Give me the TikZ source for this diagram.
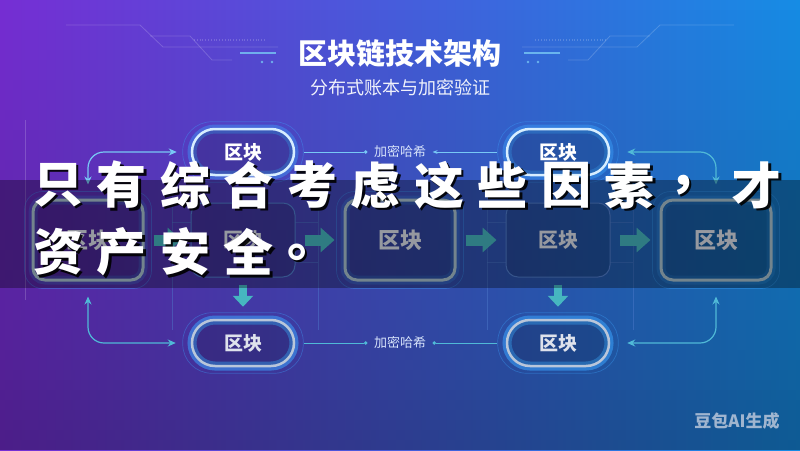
\documentclass[tikz,border=0pt]{standalone}
\usepackage{fontspec}
\setmainfont{Noto Sans CJK SC}
\usetikzlibrary{arrows.meta,calc}
\definecolor{bgleft}{RGB}{118,46,212}
\definecolor{bgmid}{RGB}{62,80,214}
\definecolor{bgright}{RGB}{22,140,228}
\definecolor{frameline}{RGB}{170,196,208}
\definecolor{thinline}{RGB}{80,125,205}
\definecolor{pilltopc}{RGB}{215,238,255}
\definecolor{pillbotc}{RGB}{185,198,218}
\definecolor{glowblue}{RGB}{60,165,255}
\definecolor{flowteal}{RGB}{70,182,192}
\definecolor{linkblue}{RGB}{120,200,245}
\definecolor{linkteal}{RGB}{80,185,215}
\definecolor{labeltext}{RGB}{214,226,250}
\definecolor{blocktext}{RGB}{222,226,236}
\tikzset{
 thickbox/.style={rectangle,rounded corners=12pt,minimum width=110pt,minimum height=80pt,
  line width=3pt,draw=frameline,fill=black,fill opacity=.12,text opacity=1,text=blocktext,
  font=\bfseries\fontsize{22}{24}\selectfont,
  preaction={draw=glowblue,draw opacity=.22,line width=9pt,fill opacity=0}},
 thinbox/.style={rectangle,rounded corners=12pt,minimum width=104pt,minimum height=74pt,
  line width=1pt,draw=thinline,fill=black,fill opacity=.12,text opacity=1,text=blocktext,
  font=\bfseries\fontsize{20}{22}\selectfont},
 pilltop/.style={rectangle,rounded corners=23pt,minimum width=102pt,minimum height=46pt,
  line width=2.5pt,draw=pilltopc,fill=black,fill opacity=.15,text opacity=1,text=white,
  font=\bfseries\fontsize{19}{21}\selectfont,
  preaction={draw=glowblue,draw opacity=.4,line width=9pt,fill opacity=0}},
 pillbot/.style={pilltop,draw=pillbotc,text=blocktext,
  preaction={draw=glowblue,draw opacity=.22,line width=9pt,fill opacity=0}},
 ring/.style={draw=glowblue,draw opacity=.35,line width=.7pt},
 hashlabel/.style={text=labeltext,font=\fontsize{13}{15}\selectfont},
 hashline/.style={draw=linkblue,line width=.9pt},
 link/.style={line width=1.2pt,rounded corners=16pt,{Stealth[length=8pt,width=7pt]}-{Stealth[length=8pt,width=7pt]}},
 flow/.style={draw=flowteal,line width=11pt,-{Triangle[width=24pt,length=14pt]},shorten <=9pt,shorten >=9pt},
 flowdown/.style={draw=flowteal,line width=8pt,-{Triangle[width=20pt,length=11pt]},shorten <=7pt,shorten >=12pt},
 deco/.style={draw=white,draw opacity=.18,line width=.8pt},
 framedeco/.style={draw=thinline,draw opacity=.45,line width=.6pt},
 overtxt/.style={text=white,font=\bfseries\fontsize{50}{50}\selectfont},
 shadowtxt/.style={text=black,text opacity=.9,font=\bfseries\fontsize{50}{50}\selectfont},
 wmark/.style={text=pillbotc,text opacity=.85,font=\bfseries\fontsize{17}{19}\selectfont}
}
\begin{document}
\begin{tikzpicture}[x=1pt,y=-1pt]
\useasboundingbox (0,0) rectangle (800,450);
\shade[left color=bgleft,middle color=bgmid,right color=bgright] (0,0) rectangle (800,450);
\foreach \k in {0,...,44}
 \fill[black,fill opacity=\k*0.008] (0,\k*10) rectangle (800,\k*10+10);

% title and its circuit lines
\foreach \side in {1,-1}{
 \begin{scope}[xshift={(1-\side)*400pt},xscale=\side]
  \draw[deco] (66,25) -- (140,25) -- (163,47) -- (278,47);
  \draw[deco] (150,36) -- (190,36) -- (212,60) -- (232,60);
  \draw[deco,dotted,line width=1.2pt] (194,40) -- (265,40);
  \draw[linkblue,line width=2.5pt,opacity=.8] (240,53) -- (276,53);
  \fill[linkblue,opacity=.8] (262,62) circle (1.3) (272,62) circle (1.3);
 \end{scope}}
\draw[deco] (25,120) -- (25,300);
\node[text=white,font=\bfseries\fontsize{29}{31}\selectfont] (title) at (400,53) {区块链技术架构};
\node[text=white,text opacity=.92,font=\fontsize{18}{20}\selectfont] (subtitle) at (400,88) {分布式账本与加密验证};

% faint frames round the thin blocks
\foreach \cx in {243,558}{
 \draw[framedeco] (\cx-71,190) -- (\cx-71,330) (\cx+75,190) -- (\cx+75,330);
 \draw[framedeco] (\cx-71,222) -- (\cx-52,222) (\cx-71,262) -- (\cx-52,262);
 \draw[framedeco] (\cx+52,222) -- (\cx+75,222) (\cx+52,262) -- (\cx+75,262);}

% blocks
\node[thickbox] (b1) at (88,240) {区块};
\node[thinbox] (b2) at (243,240) {区块};
\node[thickbox] (b3) at (400,240) {区块};
\node[thinbox] (b4) at (558,240) {区块};
\node[thickbox] (b5) at (716,240) {区块};
\node[pilltop] (tA) at (243,152) {区块};
\node[pilltop] (tB) at (558,152) {区块};
\node[pillbot] (bA) at (243,343) {区块};
\node[pillbot] (bB) at (558,343) {区块};
\node[hashlabel] (h1) at (400,152) {加密哈希};
\node[hashlabel] (h2) at (400,343) {加密哈希};

\foreach \n in {b1,b3,b5}
 \draw[ring,rounded corners=18pt] ($(\n.north west)+(-7,-7)$) rectangle ($(\n.south east)+(7,7)$);
\foreach \n in {tA,tB,bA,bB}
 \draw[ring,rounded corners=29pt] ($(\n.north west)+(-8,-6)$) rectangle ($(\n.south east)+(8,6)$);

% chain
\draw[flow] (b1) -- (b2);
\draw[flow] (b2) -- (b3);
\draw[flow] (b3) -- (b4);
\draw[flow] (b4) -- (b5);
\draw[flowdown] (b2) -- (bA);
\draw[flowdown] (b4) -- (bB);

% side links
\draw[link,linkblue,shorten <=14pt,shorten >=14pt] (b1.north) |- (tA.west);
\draw[link,linkteal,shorten <=15pt,shorten >=15pt] (b1.south) |- (bA.west);
\draw[link,linkteal,shorten <=14pt,shorten >=17pt] (b5.north) |- (tB.east);
\draw[link,linkteal,shorten <=15pt,shorten >=17pt] (b5.south) |- (bB.east);

% hash lines
\draw[hashline,-{Circle[length=3.5pt]},shorten <=9pt,shorten >=3pt] (tA.east) -- (h1.west);
\draw[hashline,-{Stealth[length=5pt]},shorten <=9pt,shorten >=3pt] (tB.west) -- (h1.east);
\draw[hashline,draw=linkteal,-{Circle[length=3.5pt]},shorten <=9pt,shorten >=3pt] (bA.east) -- (h2.west);
\draw[hashline,draw=linkteal,-{Circle[length=3.5pt]},shorten <=9pt,shorten >=3pt] (bB.west) -- (h2.east);

% overlay band and its text
\fill[black,fill opacity=.32] (0,180) rectangle (800,288);
\foreach \ch [count=\i from 0] in {只,有,综,合,考,虑,这,些,因,素,，,才}{
 \node[shadowtxt] (s\i) at (60.5+63.5*\i,187.5) {\ch};
 \node[overtxt] (o\i) at (58+63.5*\i,185) {\ch};}
\foreach \ch [count=\i from 0] in {资,产,安,全,。}{
 \node[shadowtxt] (t\i) at (60.5+63.5*\i,254.5) {\ch};
 \node[overtxt] (p\i) at (58+63.5*\i,252) {\ch};}

\node[wmark] (wm) at (737,421) {豆包AI生成};
\end{tikzpicture}
\end{document}
